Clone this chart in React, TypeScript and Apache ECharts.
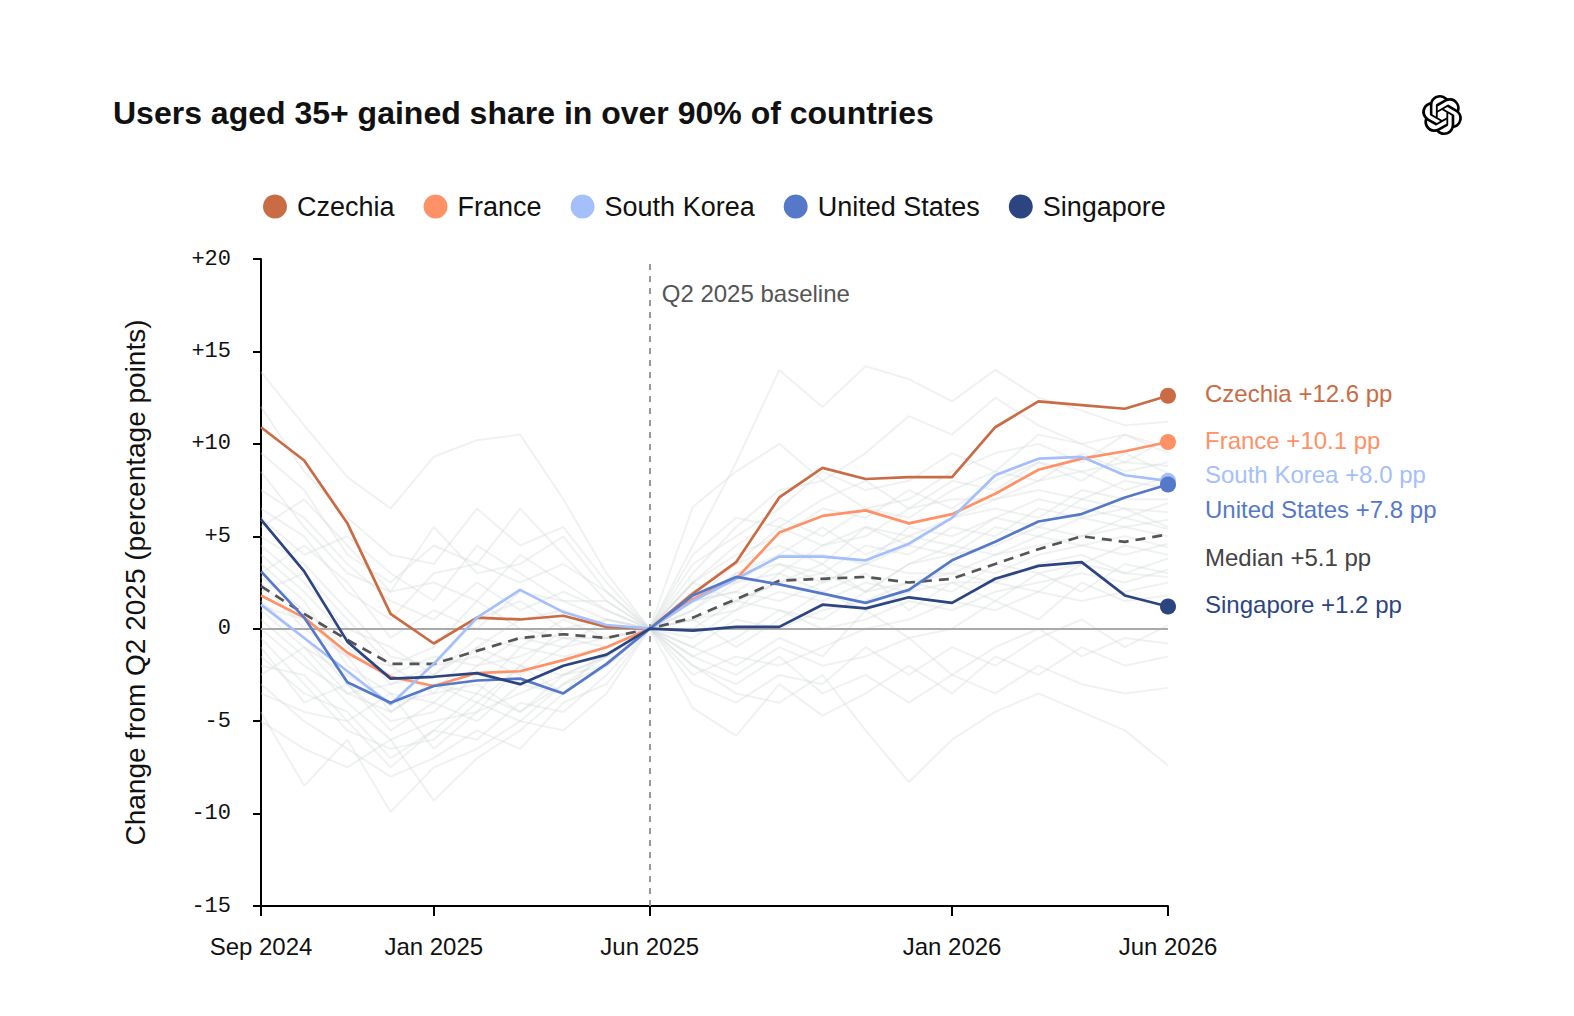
import React, { useEffect, useRef } from "react";
import * as echarts from "echarts";

const months = [
  "Sep 2024", "Oct 2024", "Nov 2024", "Dec 2024", "Jan 2025", "Feb 2025", "Mar 2025", "Apr 2025",
  "May 2025", "Jun 2025", "Jul 2025", "Aug 2025", "Sep 2025", "Oct 2025", "Nov 2025", "Dec 2025",
  "Jan 2026", "Feb 2026", "Mar 2026", "Apr 2026", "May 2026", "Jun 2026",
];
const labeledMonths = ["Sep 2024", "Jan 2025", "Jun 2025", "Jan 2026", "Jun 2026"];
const baselineMonth = "Jun 2025";
const baselineLabel = "Q2 2025 baseline";

const czechia = [10.9, 9.1, 5.7, 0.8, -0.8, 0.6, 0.5, 0.7, 0.1, 0, 1.9, 3.6, 7.1, 8.7, 8.1, 8.2, 8.2, 10.9, 12.3, 12.1, 11.9, 12.6];
const france = [1.8, 0.6, -1.3, -2.6, -3.1, -2.4, -2.3, -1.7, -1.0, 0, 1.6, 2.7, 5.2, 6.1, 6.4, 5.7, 6.2, 7.3, 8.6, 9.2, 9.6, 10.1];
const southKorea = [1.3, -0.5, -2.3, -4.1, -1.9, 0.6, 2.1, 0.9, 0.2, 0, 1.5, 2.7, 3.9, 3.9, 3.7, 4.6, 6.0, 8.3, 9.2, 9.3, 8.3, 8.0];
const unitedStates = [3.1, 0.6, -2.9, -4.0, -3.1, -2.8, -2.7, -3.5, -1.9, 0, 1.8, 2.8, 2.4, 1.9, 1.4, 2.1, 3.7, 4.7, 5.8, 6.2, 7.1, 7.8];
const singapore = [5.9, 3.1, -0.7, -2.7, -2.6, -2.4, -3.0, -2.0, -1.4, 0, -0.1, 0.1, 0.1, 1.3, 1.1, 1.7, 1.4, 2.7, 3.4, 3.6, 1.8, 1.2];
const median = [2.3, 0.8, -0.6, -1.9, -1.9, -1.2, -0.5, -0.3, -0.5, 0, 0.6, 1.6, 2.6, 2.7, 2.8, 2.5, 2.7, 3.5, 4.3, 5.0, 4.7, 5.1];

const highlightNames = ["Czechia", "France", "South Korea", "United States", "Singapore"];
const highlightData = [czechia, france, southKorea, unitedStates, singapore];
const highlightColors = ["#C96C45", "#FF9166", "#A5BFFA", "#5579C8", "#2C4581"];
const labelShift = [-2, -2, -6, 25, -2];
const medianName = "Median";
const medianShift = 23;

const others = [
  [13.9, 11.0, 8.2, 6.5, 9.3, 10.2, 10.5, 7.0, 3.0, 0, 4.5, 9.0, 14.0, 12.0, 14.2, 13.5, 12.3, 14.0, 12.5, 11.8, 11.0, 11.2],
  [12.0, 8.5, 6.0, 4.0, 3.5, 6.5, 4.5, 5.5, 2.5, 0, 6.6, 8.5, 10.0, 8.0, 9.5, 11.5, 10.5, 12.5, 11.0, 10.0, 10.5, 9.8],
  [9.5, 7.5, 4.0, 2.5, 4.5, 3.5, 6.5, 4.0, 1.5, 0, 3.0, 5.5, 7.5, 8.0, 6.5, 7.0, 8.5, 9.5, 10.0, 9.0, 10.5, 9.5],
  [6.5, 5.0, 2.0, 0.5, 3.0, 3.5, 2.5, 3.5, 2.0, 0, 2.5, 4.0, 5.0, 6.5, 6.0, 7.5, 6.5, 8.0, 9.0, 8.5, 9.0, 8.8],
  [5.0, 3.5, 1.0, -1.5, -2.0, 0.5, 1.5, 0.0, 0.5, 0, 1.5, 3.5, 5.5, 4.5, 5.0, 6.5, 7.0, 7.0, 8.0, 8.5, 7.5, 8.2],
  [4.0, 2.0, -0.5, -3.0, -2.5, -1.0, 0.5, 1.0, 0.0, 0, 2.0, 2.5, 4.0, 5.5, 4.0, 5.0, 6.0, 6.5, 6.0, 7.5, 7.0, 7.0],
  [3.5, 1.5, -2.0, -3.5, -4.0, -2.0, -1.5, -0.5, -0.5, 0, 1.0, 3.0, 3.5, 3.0, 4.5, 4.0, 5.5, 5.0, 6.5, 6.0, 6.5, 6.3],
  [2.5, 0.0, -1.5, -4.5, -3.0, -3.5, -1.0, -1.5, -1.0, 0, 0.5, 1.5, 2.5, 3.5, 2.0, 3.5, 4.0, 5.5, 5.0, 6.0, 5.5, 5.9],
  [1.5, -0.5, -3.0, -5.0, -4.5, -2.5, -3.0, -2.0, -1.5, 0, 1.5, 2.0, 1.5, 2.5, 3.5, 3.0, 3.0, 4.0, 4.5, 5.0, 5.5, 5.0],
  [0.5, -1.5, -4.0, -6.0, -5.0, -4.5, -3.5, -2.5, -1.5, 0, -0.5, 1.0, 2.0, 1.5, 2.5, 2.0, 3.5, 3.0, 4.0, 4.5, 4.0, 4.6],
  [-0.5, -3.0, -5.5, -6.5, -6.0, -4.0, -5.0, -3.0, -2.0, 0, -1.0, 0.5, 0.0, 1.0, 1.5, 2.5, 2.0, 3.5, 3.0, 3.5, 4.5, 4.0],
  [-1.5, -3.5, -4.5, -7.0, -5.5, -6.0, -4.0, -4.5, -2.5, 0, -1.5, -0.5, 1.0, 0.0, 0.5, 1.5, 1.0, 2.0, 2.5, 3.0, 2.5, 3.2],
  [-3.0, -5.0, -6.5, -8.0, -7.0, -5.5, -6.5, -4.0, -3.0, 0, -2.5, -1.5, -2.0, -1.0, 0.0, 0.5, 1.5, 1.0, 2.0, 1.5, 2.0, 2.5],
  [-4.5, -8.5, -6.0, -9.9, -7.5, -6.5, -5.0, -5.5, -3.5, 0, -4.3, -5.8, -3.0, -4.7, -3.5, -2.0, -3.5, -1.5, -2.5, -1.0, -2.0, -1.5],
  [-5.0, -6.5, -7.5, -6.0, -9.3, -7.0, -5.5, -3.5, -2.0, 0, -2.0, -3.5, -4.0, -2.5, -5.5, -8.3, -6.0, -4.5, -3.5, -4.5, -5.5, -7.4],
  [7.5, 6.0, 3.5, 1.5, 0.5, 2.5, 1.0, 2.0, 1.0, 0, 3.5, 5.0, 6.5, 8.5, 7.5, 8.0, 9.5, 8.5, 10.5, 10.0, 9.0, 10.3],
  [2.0, 3.0, 0.5, -2.0, -1.0, 1.5, 0.0, -0.5, -1.0, 0, 0.5, -1.0, 0.5, 2.0, 1.0, 2.0, 2.5, 1.5, 3.0, 2.0, 3.5, 3.0],
  [1.0, -1.0, -2.5, -4.0, -3.5, -3.0, -4.5, -2.5, -2.0, 0, -1.5, -2.5, -1.0, -2.0, -1.5, -0.5, -2.5, -1.0, 0.0, -1.5, -0.5, -0.8],
  [3.0, 4.5, 2.5, -0.5, 1.0, 0.0, 2.0, 1.5, 0.5, 0, 2.0, 3.5, 4.5, 3.5, 5.5, 4.5, 6.0, 7.0, 7.5, 7.0, 8.0, 7.6],
  [-2.0, -2.5, -5.0, -3.5, -6.5, -4.5, -2.0, -3.5, -1.0, 0, -2.0, -3.0, -1.5, -3.5, -2.5, -4.0, -2.5, -3.5, -2.0, -3.0, -3.5, -3.2],
  [6.0, 4.0, 5.0, 3.0, 1.5, 4.5, 3.0, 1.5, 1.5, 0, 1.5, 3.0, 4.0, 4.0, 3.5, 5.5, 5.0, 6.0, 7.0, 6.5, 6.0, 6.8],
  [0.0, -2.0, -3.5, -3.0, -2.0, -1.5, -2.5, -1.0, -0.5, 0, 0.5, 1.0, 3.0, 2.0, 3.0, 1.0, 2.5, 2.5, 3.5, 4.0, 3.0, 3.8],
  [4.5, 2.5, 0.0, -1.0, -2.5, -0.5, -1.0, 0.5, -0.5, 0, 1.0, 2.5, 3.0, 4.5, 5.5, 5.0, 4.5, 6.0, 5.5, 7.0, 6.5, 5.5],
  [-1.0, -4.0, -3.0, -5.5, -4.0, -5.0, -3.0, -3.5, -2.0, 0, -1.0, -2.0, -0.5, -1.5, 1.0, -0.5, 0.0, 1.5, 0.5, 2.5, 1.5, 1.8],
  [8.5, 5.5, 3.0, 2.0, 2.5, 1.5, 4.0, 2.5, 1.0, 0, 2.5, 4.5, 6.0, 5.0, 6.5, 6.0, 7.5, 8.5, 8.0, 9.5, 8.5, 9.0],
  [2.8, 1.0, -1.0, -2.5, -1.5, -2.0, -0.5, -1.0, 0.5, 0, 1.5, 2.0, 3.5, 2.5, 3.5, 4.5, 4.0, 4.5, 5.5, 5.0, 6.0, 5.4],
  [-3.5, -4.5, -5.0, -7.5, -5.5, -3.5, -4.5, -3.0, -1.5, 0, -3.0, -4.0, -2.5, -3.0, -1.0, -2.5, -1.0, -2.0, -0.5, 0.5, -1.0, 0.2],
  [5.5, 7.0, 4.5, 2.0, 5.5, 3.0, 3.5, 5.0, 2.0, 0, 4.0, 6.0, 5.5, 7.0, 8.0, 6.5, 8.0, 7.5, 9.0, 8.0, 9.5, 8.4],
  [-2.5, -1.0, -3.5, -4.5, -3.0, -4.0, -2.0, -2.5, -1.5, 0, 0.0, 1.5, 1.0, 0.5, 2.0, 2.5, 3.0, 2.5, 2.0, 3.5, 3.0, 2.8],
  [1.2, 0.5, -1.5, -2.0, -3.5, -1.0, -2.0, 0.0, 0.0, 0, 2.5, 1.5, 2.5, 3.0, 2.0, 3.5, 4.5, 4.0, 5.0, 4.5, 5.0, 4.4],
];

const yMin = -15;
const yMax = 20;
const yStep = 5;

const title = "Users aged 35+ gained share in over 90% of countries";
const yAxisName = "Change from Q2 2025 (percentage points)";

const LOGO_D =
  "M22.2819 9.8211a5.9847 5.9847 0 0 0-.5157-4.9108 6.0462 6.0462 0 0 0-6.5098-2.9A6.0651 6.0651 0 0 0 4.9807 4.1818a5.9847 5.9847 0 0 0-3.9977 2.9 6.0462 6.0462 0 0 0 .7427 7.0966 5.98 5.98 0 0 0 .511 4.9107 6.051 6.051 0 0 0 6.5146 2.9001A5.9847 5.9847 0 0 0 13.2599 24a6.0557 6.0557 0 0 0 5.7718-4.2058 5.9894 5.9894 0 0 0 3.9977-2.9001 6.0557 6.0557 0 0 0-.7475-7.0729zm-9.022 12.6081a4.4755 4.4755 0 0 1-2.8764-1.0408l.1419-.0804 4.7783-2.7582a.7948.7948 0 0 0 .3927-.6813v-6.7369l2.02 1.1686a.071.071 0 0 1 .038.052v5.5826a4.504 4.504 0 0 1-4.4945 4.4944zm-9.6607-4.1254a4.4708 4.4708 0 0 1-.5346-3.0137l.142.0852 4.783 2.7582a.7712.7712 0 0 0 .7806 0l5.8428-3.3685v2.3324a.0804.0804 0 0 1-.0332.0615L9.74 19.9502a4.4992 4.4992 0 0 1-6.1408-1.6464zM2.3408 7.8956a4.485 4.485 0 0 1 2.3655-1.9728V11.6a.7664.7664 0 0 0 .3879.6765l5.8144 3.3543-2.0201 1.1685a.0757.0757 0 0 1-.071 0l-4.8303-2.7865A4.504 4.504 0 0 1 2.3408 7.872zm16.5963 3.8558L13.1038 8.364 15.1192 7.2a.0757.0757 0 0 1 .071 0l4.8303 2.7913a4.4944 4.4944 0 0 1-.6765 8.1042v-5.6772a.79.79 0 0 0-.407-.667zm2.0107-3.0231l-.142-.0852-4.7735-2.7818a.7759.7759 0 0 0-.7854 0L9.409 9.2297V6.8974a.0662.0662 0 0 1 .0284-.0615l4.8303-2.7866a4.4992 4.4992 0 0 1 6.6802 4.66zM8.3065 12.863l-2.02-1.1638a.0804.0804 0 0 1-.038-.0567V6.0742a4.4992 4.4992 0 0 1 7.3757-3.4537l-.142.0805L8.704 5.459a.7948.7948 0 0 0-.3927.6813zm1.0976-2.3654l2.602-1.4998 2.6069 1.4998v2.9994l-2.5974 1.4997-2.6067-1.4997Z";

let logoRegistered = false;
function ensureLogo() {
  if (logoRegistered) return;
  echarts.graphic.registerShape("openaiLogo", echarts.graphic.extendPath(LOGO_D, {}) as any);
  logoRegistered = true;
}

const SANS = "'Liberation Sans', Arial, sans-serif";
const MONO = "'Liberation Mono', monospace";

export default function App() {
  const ref = useRef<HTMLDivElement>(null);

  useEffect(() => {
    if (!ref.current) return;
    ensureLogo();
    const chart = echarts.init(ref.current, null, { renderer: "svg" });
    const last = months.length - 1;
    const showIdx = (i: number, v: string) => labeledMonths.includes(v);

    const greySeries = others.map((d, i) => ({
      name: "other" + i,
      type: "line",
      data: d,
      silent: true,
      symbol: "none",
      z: 1,
      lineStyle: { color: "#d3d9d9", width: 2, opacity: 0.34 },
    }));

    const highlightSeries = highlightNames.map((name, i) => ({
      name,
      type: "line",
      data: highlightData[i],
      z: 5 + i,
      color: highlightColors[i],
      symbol: "circle",
      showSymbol: true,
      showAllSymbol: true,
      symbolSize: (_v: any, p: any) => (p.dataIndex === last ? 16 : 0),
      itemStyle: { color: highlightColors[i], borderWidth: 0 },
      lineStyle: { color: highlightColors[i], width: 2.7 },
      emphasis: { disabled: true },
      endLabel: {
        show: true,
        formatter: (p: any) => `${p.seriesName} +${Number(p.value).toFixed(1)} pp`,
        color: highlightColors[i],
        fontFamily: SANS,
        fontSize: 24,
        distance: 37,
        offset: [0, labelShift[i]],
      },
    }));

    const option: any = {
      animation: false,
      backgroundColor: "#ffffff",
      title: {
        text: title,
        left: 108,
        top: 92,
        textStyle: { fontFamily: SANS, fontWeight: "bold", fontSize: 32, color: "#111111" },
      },
      legend: {
        data: highlightNames,
        left: 258,
        top: 188,
        icon: "circle",
        itemWidth: 24,
        itemHeight: 24,
        itemGap: 29,
        selectedMode: false,
        textStyle: { fontFamily: SANS, fontSize: 27, color: "#111111", padding: [0, 0, 0, 5] },
      },
      grid: { left: 261, right: 406, top: 259, bottom: 110, containLabel: false, outerBoundsMode: "none" },
      xAxis: {
        type: "category",
        data: months,
        boundaryGap: false,
        axisLine: { show: true, onZero: false, lineStyle: { color: "#000000", width: 2 } },
        axisTick: { show: true, interval: showIdx, length: 10, lineStyle: { color: "#000000", width: 2 } },
        axisLabel: {
          interval: showIdx,
          margin: 28,
          fontFamily: SANS,
          fontSize: 24,
          color: "#111111",
        },
        splitLine: { show: false },
      },
      yAxis: {
        type: "value",
        min: yMin,
        max: yMax,
        interval: yStep,
        name: yAxisName,
        nameLocation: "middle",
        nameGap: 112,
        nameTextStyle: { fontFamily: SANS, fontSize: 28, color: "#111111" },
        axisLine: { show: true, lineStyle: { color: "#000000", width: 2 } },
        axisTick: { show: true, length: 8, lineStyle: { color: "#000000", width: 2 } },
        axisLabel: {
          margin: 30,
          fontFamily: MONO,
          fontSize: 22,
          color: "#111111",
          formatter: (v: number) => (v > 0 ? "+" + v : String(v)),
        },
        splitLine: { show: false },
      },
      graphic: [
        {
          type: "openaiLogo",
          x: 1422,
          y: 95,
          scaleX: 1.67,
          scaleY: 1.67,
          style: { fill: "#000000" },
        },
      ],
      series: [
        ...greySeries,
        {
          name: "ref",
          type: "line",
          data: [],
          silent: true,
          z: 3,
          markLine: {
            silent: true,
            symbol: "none",
            label: { show: false },
            data: [
              { yAxis: 0, lineStyle: { color: "#aaaaaa", width: 2, type: "solid" } },
              { xAxis: baselineMonth, lineStyle: { color: "#999999", width: 2, type: [6, 6] } },
            ],
          },
          markPoint: {
            silent: true,
            symbol: "circle",
            symbolSize: 0,
            itemStyle: { color: "transparent" },
            label: {
              show: true,
              position: "right",
              distance: 5,
              offset: [7, 34],
              formatter: baselineLabel,
              color: "#555555",
              fontFamily: SANS,
              fontSize: 24,
            },
            data: [{ coord: [baselineMonth, yMax] }],
          },
        },
        {
          name: medianName,
          type: "line",
          data: median,
          z: 4,
          symbol: "none",
          silent: true,
          lineStyle: { color: "#555555", width: 2.7, type: [10, 7] },
          endLabel: {
            show: true,
            formatter: (p: any) => `${medianName} +${Number(p.value).toFixed(1)} pp`,
            color: "#444444",
            fontFamily: SANS,
            fontSize: 24,
            distance: 37,
            offset: [0, medianShift],
          },
        },
        ...highlightSeries,
      ],
    };

    chart.setOption(option);
    return () => chart.dispose();
  }, []);

  return (
    <div
      ref={ref}
      style={{ position: "absolute", left: 0, top: 0, width: 1574, height: 1016, background: "#fff" }}
    />
  );
}
